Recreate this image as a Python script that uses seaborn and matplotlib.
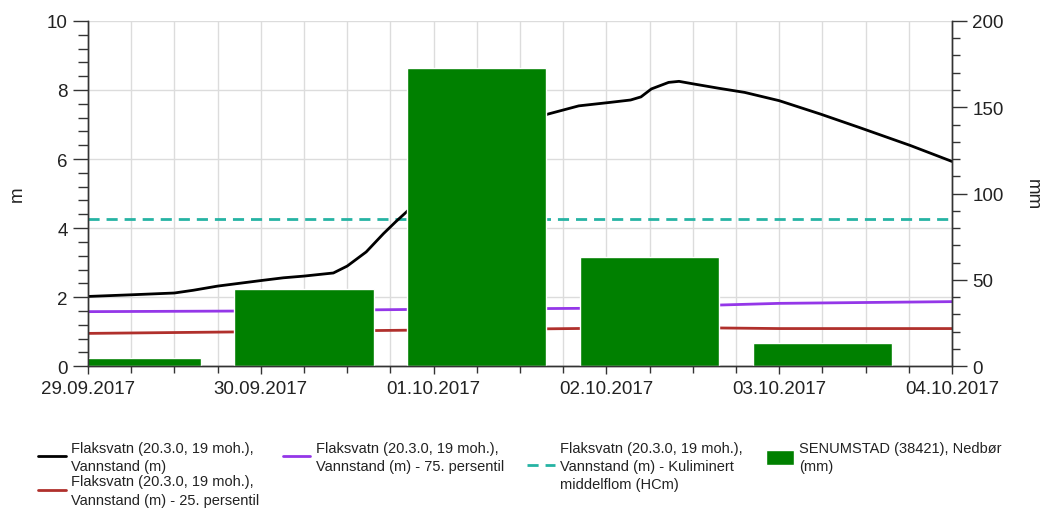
import matplotlib.dates as mdates
import matplotlib.pyplot as plt
import pandas as pd
import seaborn as sns
from matplotlib.ticker import MultipleLocator

sns.set_theme(style="white")
plt.rcParams["font.family"] = ["Liberation Sans", "DejaVu Sans"]

START = pd.Timestamp("2017-09-29")
END = pd.Timestamp("2017-10-04")

# Vannstand (m), offsets in days from 29.09.2017 00:00
level_days = [0.0, 0.26, 0.50, 0.61, 0.75, 1.0, 1.13, 1.25, 1.42, 1.50, 1.61, 1.71, 1.78,
              1.85, 2.0, 2.2, 2.4, 2.55, 2.66, 2.84, 3.02, 3.14, 3.20, 3.26, 3.36, 3.42,
              3.51, 3.65, 3.80, 4.0, 4.24, 4.46, 4.76, 5.0]
level_m = [2.02, 2.07, 2.12, 2.20, 2.32, 2.48, 2.56, 2.61, 2.70, 2.90, 3.31, 3.84, 4.18,
           4.5, 5.3, 6.2, 6.8, 7.1, 7.3, 7.54, 7.64, 7.71, 7.80, 8.03, 8.22, 8.25,
           8.17, 8.05, 7.93, 7.69, 7.30, 6.92, 6.39, 5.93]

p75_days = [0.0, 1.0, 2.0, 3.0, 3.5, 4.0, 5.0]
p75_m = [1.58, 1.60, 1.65, 1.68, 1.75, 1.82, 1.87]

p25_days = [0.0, 1.0, 2.0, 3.0, 3.6, 4.0, 5.0]
p25_m = [0.95, 1.00, 1.05, 1.10, 1.11, 1.09, 1.09]

hcm_days = [0.0, 5.0]
hcm_m = [4.27, 4.27]

# Nedbør (mm) per day, plotted at 06:00
rain_days = [0.25, 1.25, 2.25, 3.25, 4.25]
rain_mm = [5, 44.5, 173, 63.5, 13.5]

labels = [
    "Flaksvatn (20.3.0, 19 moh.),\nVannstand (m)",
    "Flaksvatn (20.3.0, 19 moh.),\nVannstand (m) - 25. persentil",
    "Flaksvatn (20.3.0, 19 moh.),\nVannstand (m) - 75. persentil",
    "Flaksvatn (20.3.0, 19 moh.),\nVannstand (m) - Kuliminert\nmiddelflom (HCm)",
    "SENUMSTAD (38421), Nedbør\n(mm)",
]


def to_time(days):
    return START + pd.to_timedelta(days, unit="D")


fig = plt.figure(figsize=(10.5, 5.1), dpi=100)
ax = fig.add_axes([0.0838, 0.280, 0.8229, 0.677])
ax2 = ax.twinx()

sns.lineplot(x=to_time(p25_days), y=p25_m, ax=ax, color="#b0302c", lw=2, label=labels[1])
sns.lineplot(x=to_time(p75_days), y=p75_m, ax=ax, color="#9437e8", lw=2, label=labels[2])
sns.lineplot(x=to_time(hcm_days), y=hcm_m, ax=ax, color="#26b3a3", lw=2,
             linestyle=(0, (4, 2.5)), label=labels[3])
sns.lineplot(x=to_time(level_days), y=level_m, ax=ax, color="black", lw=2, label=labels[0])

bars = ax2.bar(to_time(rain_days), rain_mm, width=0.805, color="#008000", label=labels[4])

ax.set_xlim(START, END)
ax.set_ylim(0, 10)
ax2.set_ylim(0, 200)

ax.xaxis.set_major_locator(mdates.DayLocator())
ax.xaxis.set_minor_locator(mdates.HourLocator(byhour=[6, 12, 18]))
ax.xaxis.set_major_formatter(mdates.DateFormatter("%d.%m.%Y"))
ax.yaxis.set_major_locator(MultipleLocator(2))
ax.yaxis.set_minor_locator(MultipleLocator(0.4))
ax2.yaxis.set_major_locator(MultipleLocator(50))
ax2.yaxis.set_minor_locator(MultipleLocator(10))

ax.grid(True, which="both", axis="x", color="#dcdcdc", lw=1)
ax.grid(True, which="major", axis="y", color="#dcdcdc", lw=1)
ax.set_axisbelow(True)

for a in (ax, ax2):
    a.spines["top"].set_visible(False)
    for s in ("left", "right", "bottom"):
        a.spines[s].set_color("#333333")
        a.spines[s].set_linewidth(1)

ax.tick_params(axis="y", which="major", length=11, width=1, color="#333333",
               labelsize=13.5, labelcolor="#222222", left=True)
ax.tick_params(axis="y", which="minor", length=7, width=1, color="#333333", left=True)
ax.tick_params(axis="x", which="major", length=6, width=1, color="#333333",
               labelsize=13.5, labelcolor="#222222", bottom=True, pad=4)
ax.tick_params(axis="x", which="minor", length=5, width=1, color="#333333", bottom=True)
ax2.tick_params(axis="y", which="major", length=11, width=1, color="#333333",
                labelsize=13.5, labelcolor="#222222", right=True)
ax2.tick_params(axis="y", which="minor", length=6, width=1, color="#333333", right=True)

ax.set_xlabel("")
ax.set_ylabel("m", fontsize=13.5, color="#222222")
ax.yaxis.set_label_coords(-0.072, 0.5)
ax2.set_ylabel("mm", fontsize=13.5, color="#222222", rotation=270, va="center")
ax2.yaxis.set_label_coords(1.093, 0.5)

h, l = ax.get_legend_handles_labels()
ax.get_legend().remove()
order = [labels[0], labels[1], labels[2], labels[3]]
handles = [h[l.index(lab)] for lab in order] + [bars]
leg = fig.legend(handles, order + [labels[4]], ncol=4, loc="upper left",
                 bbox_to_anchor=(0.024, 0.16), frameon=False, fontsize=10.5,
                 handlelength=1.9, handleheight=1.2, handletextpad=0.35,
                 columnspacing=1.6, labelspacing=0.1, labelcolor="#222222")
leg._legend_handle_box.align = "top"
for t in leg.get_texts():
    t.set_linespacing(1.4)

fig.savefig("out.png", dpi=100)
